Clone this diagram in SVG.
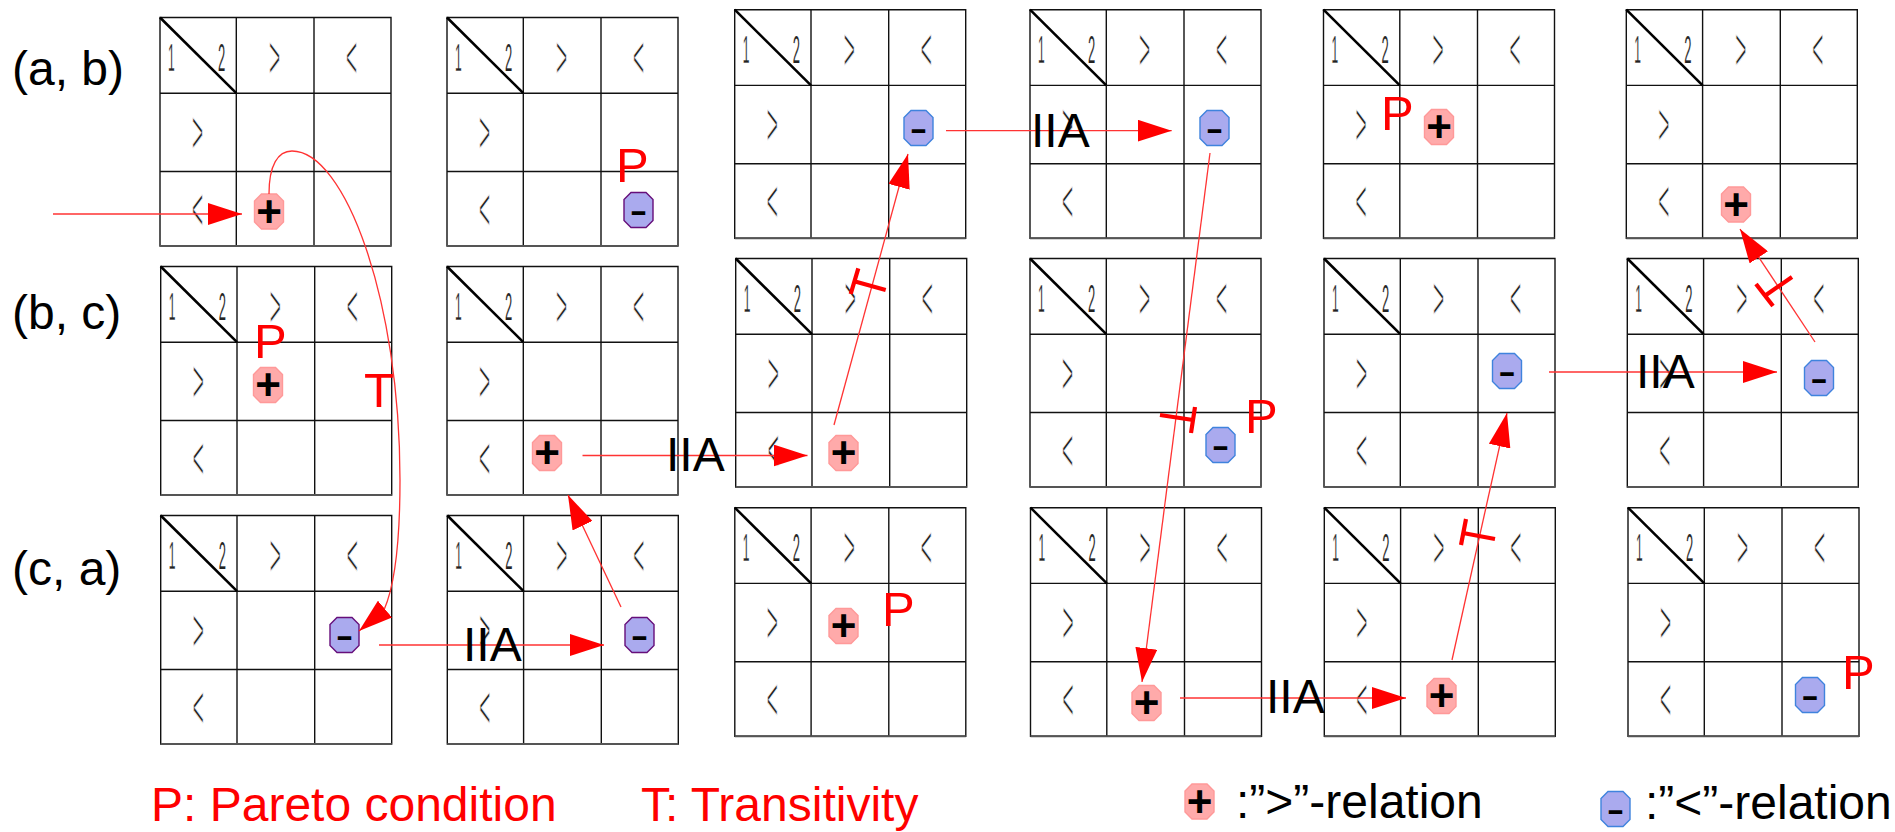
<svg xmlns="http://www.w3.org/2000/svg" width="1895" height="832" viewBox="0 0 1895 832">
<style>
text{font-family:"Liberation Sans",Arial,sans-serif}
.gl{fill:none;stroke:#111;stroke-width:1.4}
.gb{fill:none;stroke:#555;stroke-width:2}
.gd{fill:none;stroke:#000;stroke-width:2.6}
.s{font-size:20px;fill:#222}
.c,.d,.e,.f{stroke:#fff;stroke-width:.42px}
.a{transform:translate(8px,53px) scale(.6,1.9);stroke:#fff;stroke-width:.2px}
.b{transform:translate(58px,53px) scale(.65,1.9);stroke:#fff;stroke-width:.1px}
.c{transform:translate(109px,60px) scale(.95,3.08)}
.d{transform:translate(186px,60px) scale(.95,3.08)}
.e{transform:translate(32px,135px) scale(.95,3.08)}
.f{transform:translate(32px,212px) scale(.95,3.08)}
.l{font-size:48px;fill:#000}
.r{font-size:49px;fill:#f00}
.q{font-size:48px;fill:#f00}
.pos{fill:#ffaaaa;stroke:#ff9999;stroke-width:1.4}
.neg{fill:#aaaaee;stroke:#3f83dd;stroke-width:1.4}
.pur{fill:#aaaaee;stroke:#660e7a;stroke-width:1.4}
.sg{font-size:44px;font-weight:bold;fill:#000;text-anchor:middle}
.mn{transform:scale(1.2,.7)}
.cn{fill:none;stroke:#ff3333;stroke-width:1.3}
.ar{marker-end:url(#h)}
.bar{fill:none;stroke:#f00;stroke-width:4.2}
</style>
<defs>
<marker id="h" markerUnits="userSpaceOnUse" markerWidth="34" markerHeight="22" refX="34" refY="11" orient="auto"><path d="M0 0L34 11L0 22z" fill="#f00"/></marker>
<g id="gr"><path class="gl" d="M0 0H231V228.5H0zM76.3 0V228.5M154 0V228.5M0 75.7H231M0 154H231"/><path class="gb" d="M0 228.5H231"/><path class="gd" d="M0 0L76.3 75.7"/></g>
<polygon id="o" points="-7.5,-17.5 7.5,-17.5 14.5,-10.5 14.5,10.5 7.5,17.5 -7.5,17.5 -14.5,10.5 -14.5,-10.5"/>
</defs>
<g id="grid-1-1" transform="translate(160 17.5)"><use href="#gr"/><text class="s a">1</text><text class="s b">2</text><text class="s c">&gt;</text><text class="s d">&lt;</text><text class="s e">&gt;</text><text class="s f">&lt;</text></g>
<g id="grid-1-2" transform="translate(160.7 266.5)"><use href="#gr"/><text class="s a">1</text><text class="s b">2</text><text class="s c">&gt;</text><text class="s d">&lt;</text><text class="s e">&gt;</text><text class="s f">&lt;</text></g>
<g id="grid-1-3" transform="translate(160.7 515.5)"><use href="#gr"/><text class="s a">1</text><text class="s b">2</text><text class="s c">&gt;</text><text class="s d">&lt;</text><text class="s e">&gt;</text><text class="s f">&lt;</text></g>
<g id="grid-2-1" transform="translate(447 17.5)"><use href="#gr"/><text class="s a">1</text><text class="s b">2</text><text class="s c">&gt;</text><text class="s d">&lt;</text><text class="s e">&gt;</text><text class="s f">&lt;</text></g>
<g id="grid-2-2" transform="translate(447 266.5)"><use href="#gr"/><text class="s a">1</text><text class="s b">2</text><text class="s c">&gt;</text><text class="s d">&lt;</text><text class="s e">&gt;</text><text class="s f">&lt;</text></g>
<g id="grid-2-3" transform="translate(447.3 515.5)"><use href="#gr"/><text class="s a">1</text><text class="s b">2</text><text class="s c">&gt;</text><text class="s d">&lt;</text><text class="s e">&gt;</text><text class="s f">&lt;</text></g>
<g id="grid-3-1" transform="translate(734.7 9.7)"><use href="#gr"/><text class="s a">1</text><text class="s b">2</text><text class="s c">&gt;</text><text class="s d">&lt;</text><text class="s e">&gt;</text><text class="s f">&lt;</text></g>
<g id="grid-3-2" transform="translate(735.7 258.5)"><use href="#gr"/><text class="s a">1</text><text class="s b">2</text><text class="s c">&gt;</text><text class="s d">&lt;</text><text class="s e">&gt;</text><text class="s f">&lt;</text></g>
<g id="grid-3-3" transform="translate(734.8 507.7)"><use href="#gr"/><text class="s a">1</text><text class="s b">2</text><text class="s c">&gt;</text><text class="s d">&lt;</text><text class="s e">&gt;</text><text class="s f">&lt;</text></g>
<g id="grid-4-1" transform="translate(1030 9.7)"><use href="#gr"/><text class="s a">1</text><text class="s b">2</text><text class="s c">&gt;</text><text class="s d">&lt;</text><text class="s e">&gt;</text><text class="s f">&lt;</text></g>
<g id="grid-4-2" transform="translate(1030 258.5)"><use href="#gr"/><text class="s a">1</text><text class="s b">2</text><text class="s c">&gt;</text><text class="s d">&lt;</text><text class="s e">&gt;</text><text class="s f">&lt;</text></g>
<g id="grid-4-3" transform="translate(1030.5 507.7)"><use href="#gr"/><text class="s a">1</text><text class="s b">2</text><text class="s c">&gt;</text><text class="s d">&lt;</text><text class="s e">&gt;</text><text class="s f">&lt;</text></g>
<g id="grid-5-1" transform="translate(1323.5 9.7)"><use href="#gr"/><text class="s a">1</text><text class="s b">2</text><text class="s c">&gt;</text><text class="s d">&lt;</text><text class="s e">&gt;</text><text class="s f">&lt;</text></g>
<g id="grid-5-2" transform="translate(1324 258.5)"><use href="#gr"/><text class="s a">1</text><text class="s b">2</text><text class="s c">&gt;</text><text class="s d">&lt;</text><text class="s e">&gt;</text><text class="s f">&lt;</text></g>
<g id="grid-5-3" transform="translate(1324.3 507.7)"><use href="#gr"/><text class="s a">1</text><text class="s b">2</text><text class="s c">&gt;</text><text class="s d">&lt;</text><text class="s e">&gt;</text><text class="s f">&lt;</text></g>
<g id="grid-6-1" transform="translate(1626.3 9.7)"><use href="#gr"/><text class="s a">1</text><text class="s b">2</text><text class="s c">&gt;</text><text class="s d">&lt;</text><text class="s e">&gt;</text><text class="s f">&lt;</text></g>
<g id="grid-6-2" transform="translate(1627.3 258.5)"><use href="#gr"/><text class="s a">1</text><text class="s b">2</text><text class="s c">&gt;</text><text class="s d">&lt;</text><text class="s e">&gt;</text><text class="s f">&lt;</text></g>
<g id="grid-6-3" transform="translate(1628 507.7)"><use href="#gr"/><text class="s a">1</text><text class="s b">2</text><text class="s c">&gt;</text><text class="s d">&lt;</text><text class="s e">&gt;</text><text class="s f">&lt;</text></g>

<g id="node-1" transform="translate(269 211.5)"><use href="#o" class="pos"/><text class="sg" y="15">+</text></g>
<g id="node-2" transform="translate(638.5 210)"><use href="#o" class="pur"/><text class="sg mn" y="16">-</text></g>
<g id="node-3" transform="translate(268 385)"><use href="#o" class="pos"/><text class="sg" y="15">+</text></g>
<g id="node-4" transform="translate(547 453)"><use href="#o" class="pos"/><text class="sg" y="15">+</text></g>
<g id="node-5" transform="translate(344.5 635)"><use href="#o" class="pur"/><text class="sg mn" y="16">-</text></g>
<g id="node-6" transform="translate(639.5 635)"><use href="#o" class="pur"/><text class="sg mn" y="16">-</text></g>
<g id="node-7" transform="translate(918.5 128)"><use href="#o" class="neg"/><text class="sg mn" y="16">-</text></g>
<g id="node-8" transform="translate(1214.5 128)"><use href="#o" class="neg"/><text class="sg mn" y="16">-</text></g>
<g id="node-9" transform="translate(843.5 453)"><use href="#o" class="pos"/><text class="sg" y="15">+</text></g>
<g id="node-10" transform="translate(1220.5 445)"><use href="#o" class="neg"/><text class="sg mn" y="16">-</text></g>
<g id="node-11" transform="translate(843.5 626)"><use href="#o" class="pos"/><text class="sg" y="15">+</text></g>
<g id="node-12" transform="translate(1146.5 703)"><use href="#o" class="pos"/><text class="sg" y="15">+</text></g>
<g id="node-13" transform="translate(1439 127)"><use href="#o" class="pos"/><text class="sg" y="15">+</text></g>
<g id="node-14" transform="translate(1507 371)"><use href="#o" class="neg"/><text class="sg mn" y="16">-</text></g>
<g id="node-15" transform="translate(1441.5 696)"><use href="#o" class="pos"/><text class="sg" y="15">+</text></g>
<g id="node-16" transform="translate(1736 204.5)"><use href="#o" class="pos"/><text class="sg" y="15">+</text></g>
<g id="node-17" transform="translate(1819 378)"><use href="#o" class="neg"/><text class="sg mn" y="16">-</text></g>
<g id="node-18" transform="translate(1810 695)"><use href="#o" class="neg"/><text class="sg mn" y="16">-</text></g>

<g id="connectors">
<path class="cn ar" d="M53 214H242"/>
<path class="cn ar" d="M269 194C269 165 278 151 292 151C345 151 400 300 400 480C400 540 395 585 384 610L359 631"/>
<path class="cn ar" d="M379 645H604"/>
<path class="cn ar" d="M621 607L568 495"/>
<path class="cn ar" d="M582.5 455.5H807.5"/>
<path class="cn ar" d="M834 425L908 154"/>
<path class="cn ar" d="M946 130.7H1171.7"/>
<path class="cn ar" d="M1210 153L1142 682"/>
<path class="cn ar" d="M1180 698H1406"/>
<path class="cn ar" d="M1452 660L1507 413"/>
<path class="cn ar" d="M1549 372H1777"/>
<path class="cn ar" d="M1815 342L1740 229"/>
<path class="bar" d="M858.3 268.3L850.7 294M853.3 281L885.7 290"/>
<path class="bar" d="M1195 407L1191 433M1160 415L1193 420"/>
<path class="bar" d="M1466 519L1461 545M1463 533L1495 539"/>
<path class="bar" d="M1756 284L1773 306M1766 295L1792 277"/>
</g>

<g id="labels">
<text class="l" x="12" y="85">(a, b)</text>
<text class="l" x="12" y="329">(b, c)</text>
<text class="l" x="12" y="585">(c, a)</text>
<text class="l" x="463" y="661">IIA</text>
<text class="l" x="666" y="471">IIA</text>
<text class="l" x="1031" y="147">IIA</text>
<text class="l" x="1266" y="713">IIA</text>
<text class="l" x="1636" y="388">IIA</text>
<text class="r" x="616" y="182">P</text>
<text class="r" x="254" y="358">P</text>
<text class="r" x="364" y="407">T</text>
<text class="r" x="1245" y="433">P</text>
<text class="r" x="882" y="626">P</text>
<text class="r" x="1381" y="130">P</text>
<text class="r" x="1842" y="689">P</text>
<text class="q" x="151" y="821">P: Pareto condition</text>
<text class="q" x="641" y="821">T: Transitivity</text>
</g>
<g id="legend-pos"><g transform="translate(1199.5 801.5)"><use href="#o" class="pos"/><text class="sg" y="15">+</text></g><text class="l" x="1236" y="818">:”&gt;”-relation</text></g>
<g id="legend-neg"><g transform="translate(1615.5 809)"><use href="#o" class="neg"/><text class="sg mn" y="16">-</text></g><text class="l" x="1645" y="819">:”&lt;”-relation</text></g>
</svg>
